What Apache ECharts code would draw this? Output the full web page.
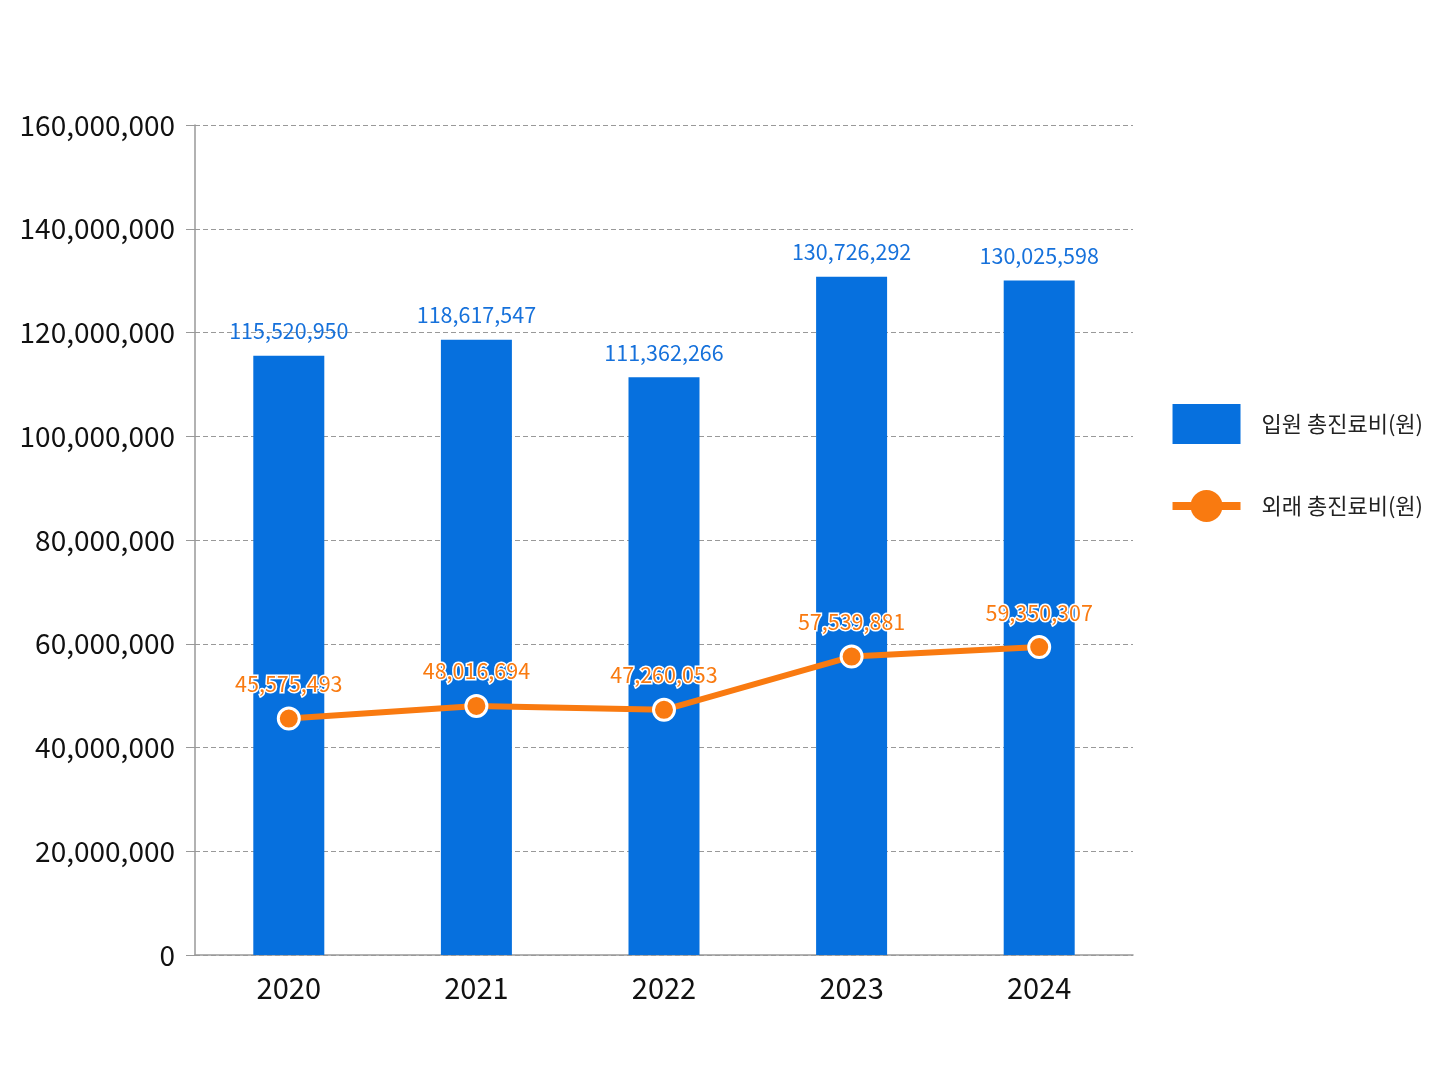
<!DOCTYPE html>
<html>
<head>
<meta charset="UTF-8">
<script src="https://cdn.jsdelivr.net/npm/echarts@6/dist/echarts.min.js"></script>
<style>
  html, body { margin: 0; padding: 0; background: #fff; }
  #main { width: 1448px; height: 1086px; }
</style>
</head>
<body>
<div id="main"></div>
<script>
    var years = ['2020', '2021', '2022', '2023', '2024'];
    var inpatient = [115520950, 118617547, 111362266, 130726292, 130025598];
    var outpatient = [45575493, 48016694, 47260053, 57539881, 59350307];
    var seriesNames = ['입원 총진료비(원)', '외래 총진료비(원)'];

    var numFont = "'Noto Sans CJK KR', sans-serif";
    function fmt(v) { return Number(v).toLocaleString('en-US'); }

    var chart = echarts.init(document.getElementById('main'));
    chart.setOption({
        animation: false,
        grid: { left: 195, right: 315, top: 125, bottom: 131 },
        legend: {
            orient: 'vertical',
            right: 20,
            top: 399,
            itemGap: 46,
            itemWidth: 68,
            itemHeight: 40,
            lineStyle: { width: 8 },
            textStyle: { fontSize: 22, color: '#222', fontFamily: "'Noto Sans CJK KR', sans-serif", padding: [0, 0, 0, 16] },
            data: [
                { name: seriesNames[0], icon: 'rect' },
                { name: seriesNames[1], itemStyle: { borderWidth: 0 } }
            ]
        },
        xAxis: {
            type: 'category',
            data: years,
            axisLine: { lineStyle: { color: '#999', width: 1.5 } },
            axisTick: { show: false },
            axisLabel: { fontSize: 29, color: '#111', margin: 18, fontFamily: numFont }
        },
        yAxis: {
            type: 'value',
            min: 0,
            max: 160000000,
            interval: 20000000,
            axisLine: { show: true, lineStyle: { color: '#999', width: 1.5 } },
            axisTick: { show: true, length: 9, lineStyle: { color: '#999' } },
            splitLine: { lineStyle: { color: '#999', type: [5, 3] } },
            axisLabel: { fontSize: 28, color: '#111', margin: 20, fontFamily: numFont, formatter: fmt }
        },
        series: [
            {
                name: seriesNames[0],
                type: 'bar',
                data: inpatient,
                barWidth: 71,
                itemStyle: { color: '#0670DE' },
                label: {
                    show: true,
                    position: 'top',
                    distance: 14,
                    fontSize: 21.5,
                    color: '#1671DB',
                    fontFamily: numFont,
                    formatter: function (p) { return fmt(p.value); }
                }
            },
            {
                name: seriesNames[1],
                type: 'line',
                data: outpatient,
                symbol: 'circle',
                symbolSize: 21,
                lineStyle: { color: '#F97A10', width: 6 },
                itemStyle: { color: '#F97A10', borderColor: '#fff', borderWidth: 3 },
                label: {
                    show: true,
                    position: 'top',
                    distance: 12,
                    fontSize: 21.5,
                    color: '#F97A10',
                    fontFamily: numFont,
                    textBorderColor: '#fff',
                    textBorderWidth: 3,
                    formatter: function (p) { return fmt(p.value); }
                }
            }
        ]
    });
</script>
</body>
</html>
